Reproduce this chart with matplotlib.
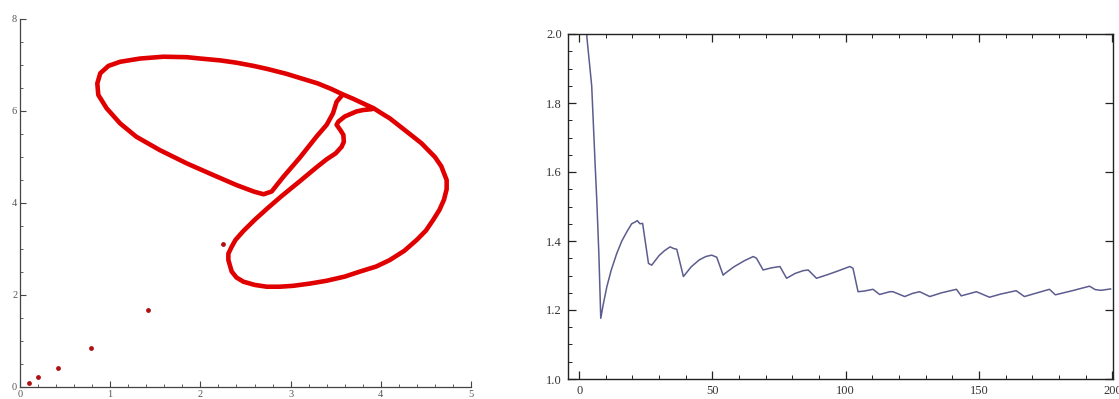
import matplotlib
matplotlib.use("Agg")
import matplotlib.pyplot as plt
from matplotlib.ticker import MultipleLocator

plt.rcParams['font.family'] = ['Liberation Serif', 'DejaVu Serif']

# left panel: traced closed curve (one continuous path)
curve_x = [3.90, 3.80, 3.73, 3.60, 3.53, 3.51, 3.55, 3.585, 3.59, 3.565, 3.50,
           3.40, 3.29, 3.10, 2.90, 2.735, 2.60, 2.476, 2.39, 2.347, 2.31, 2.31,
           2.347, 2.40, 2.476, 2.60, 2.735, 2.88, 3.03, 3.22, 3.40, 3.60, 3.77,
           3.95, 4.10, 4.26, 4.40, 4.50, 4.58, 4.65, 4.70, 4.73, 4.73, 4.70,
           4.67, 4.60, 4.52, 4.45, 4.36, 4.23, 4.10, 4.00, 3.92, 3.82, 3.70,
           3.58, 3.45, 3.30, 3.10, 2.95, 2.75, 2.59, 2.40, 2.22, 2.00, 1.85,
           1.59, 1.33, 1.11, 0.98, 0.89, 0.857, 0.868, 0.96, 1.11, 1.29, 1.55,
           1.85, 2.14, 2.40, 2.59, 2.70, 2.79, 2.92, 3.10, 3.29, 3.40, 3.47,
           3.51, 3.57]
curve_y = [6.04, 6.02, 5.99, 5.88, 5.77, 5.70, 5.59, 5.48, 5.33, 5.22, 5.08,
           4.95, 4.78, 4.47, 4.15, 3.87, 3.63, 3.39, 3.20, 3.05, 2.90, 2.76,
           2.51, 2.38, 2.29, 2.22, 2.18, 2.18, 2.20, 2.25, 2.31, 2.40, 2.51,
           2.62, 2.76, 2.96, 3.20, 3.40, 3.63, 3.85, 4.07, 4.30, 4.50, 4.65,
           4.80, 5.00, 5.16, 5.30, 5.44, 5.64, 5.84, 5.96, 6.06, 6.15, 6.26,
           6.36, 6.48, 6.60, 6.72, 6.81, 6.91, 6.98, 7.05, 7.10, 7.14, 7.17,
           7.18, 7.14, 7.07, 6.98, 6.82, 6.60, 6.35, 6.06, 5.73, 5.44, 5.15,
           4.86, 4.61, 4.39, 4.25, 4.19, 4.25, 4.57, 4.98, 5.45, 5.70, 5.95,
           6.20, 6.34]
# left panel: isolated transient points
dots_x = [0.10, 0.20, 0.42, 0.79, 1.42, 2.25]
dots_y = [0.09, 0.21, 0.41, 0.85, 1.68, 3.11]

# right panel: running value vs iteration
run_x = [1, 2.9, 4.7, 6.0, 6.6, 7.4, 8.1, 9.0, 10.4, 12.0, 14.1, 16.0, 17.9,
         19.7, 21.0, 21.8, 22.8, 23.8, 26.0, 27.2, 30.0, 32.0, 34.1, 35.5,
         36.6, 39.1, 42.0, 45.0, 47.5, 49.7, 51.6, 54.0, 54.7, 58.0, 62.0,
         65.3, 66.5, 69.0, 72.0, 75.3, 77.8, 81.0, 84.0, 85.9, 89.0, 93.0,
         97.0, 101.5, 102.7, 104.6, 107.0, 110.2, 112.7, 116.5, 117.7, 122.1,
         125.0, 127.7, 131.5, 136.0, 141.5, 143.3, 149.0, 153.9, 158.0, 163.9,
         167.0, 171.0, 176.4, 178.6, 185.0, 191.4, 193.6, 195.7, 199.3]
run_y = [2.40, 1.99, 1.85, 1.62, 1.52, 1.36, 1.176, 1.215, 1.268, 1.315, 1.364,
         1.400, 1.427, 1.450, 1.455, 1.459, 1.450, 1.451, 1.335, 1.330, 1.358,
         1.372, 1.383, 1.378, 1.376, 1.297, 1.325, 1.345, 1.355, 1.359, 1.353,
         1.301, 1.306, 1.325, 1.343, 1.355, 1.350, 1.316, 1.322, 1.326, 1.292,
         1.306, 1.314, 1.316, 1.292, 1.302, 1.313, 1.326, 1.321, 1.253, 1.255,
         1.260, 1.245, 1.253, 1.253, 1.239, 1.248, 1.253, 1.239, 1.250, 1.260,
         1.241, 1.253, 1.237, 1.246, 1.256, 1.239, 1.248, 1.260, 1.244, 1.256,
         1.269, 1.259, 1.257, 1.261]

fig = plt.figure(figsize=(11.19, 3.99), dpi=100)
grey = '#555555'

# ---- left panel
ax1 = fig.add_axes([20 / 1119, 12 / 399, 451 / 1119, 368 / 399])
ax1.plot(curve_x, curve_y, color='#e00000', lw=3.3, solid_joinstyle='round',
         solid_capstyle='round')
ax1.scatter(dots_x, dots_y, s=6, color='#b01010', zorder=3)
ax1.set_xlim(0, 5)
ax1.set_ylim(0, 8)
for s in ['top', 'right']:
    ax1.spines[s].set_visible(False)
for s in ['left', 'bottom']:
    ax1.spines[s].set_color('#444444')
    ax1.spines[s].set_linewidth(0.9)
ax1.xaxis.set_major_locator(MultipleLocator(1))
ax1.xaxis.set_minor_locator(MultipleLocator(0.2))
ax1.yaxis.set_major_locator(MultipleLocator(2))
ax1.yaxis.set_minor_locator(MultipleLocator(0.5))
ax1.tick_params(which='both', direction='in', colors='#444444', labelcolor=grey,
                labelsize=7.5, pad=2)
ax1.tick_params(which='major', length=4, width=0.8)
ax1.tick_params(which='minor', length=2, width=0.6)

# ---- right panel
ax2 = fig.add_axes([567.7 / 1119, 20 / 399, 545.5 / 1119, 345 / 399])
ax2.plot(run_x, run_y, color='#5c5c8e', lw=1.1)
ax2.set_xlim(-4.3, 200.3)
ax2.set_ylim(1.0, 2.0)
for s in ax2.spines.values():
    s.set_linewidth(1.0)
    s.set_color('#222222')
ax2.xaxis.set_major_locator(MultipleLocator(50))
ax2.xaxis.set_minor_locator(MultipleLocator(10))
ax2.yaxis.set_minor_locator(MultipleLocator(0.05))
ax2.set_yticks([1.0, 1.2, 1.4, 1.6, 1.8, 2.0])
ax2.set_yticklabels(['1.0', '1.2', '1.4', '1.6', '1.8', '2.0'])
ax2.tick_params(which='both', direction='in', top=True, right=True,
                colors='#222222', labelcolor='#333333', labelsize=9, pad=4)
ax2.tick_params(which='major', length=6, width=0.9)
ax2.tick_params(which='minor', length=3, width=0.7)
ax2.tick_params(axis='y', which='minor', right=False)

fig.savefig('out.png', dpi=100)
